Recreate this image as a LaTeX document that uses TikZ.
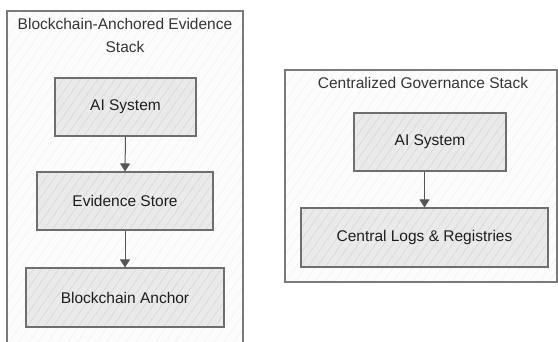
\documentclass[tikz,border=0pt]{standalone}
\usepackage{fontspec}
\setmainfont{Liberation Sans}
\usetikzlibrary{arrows.meta,patterns.meta}

\definecolor{boxfill}{HTML}{EAEAEA}
\definecolor{boxline}{HTML}{6E6E6E}
\definecolor{hatchdark}{HTML}{D4D4D4}
\definecolor{hatchlight}{HTML}{EEEEEE}
\definecolor{framefill}{HTML}{FCFCFC}
\definecolor{frameline}{HTML}{7A7A7A}
\definecolor{arrowcol}{HTML}{555555}
\definecolor{txt}{HTML}{1E1E1E}

\tikzset{
  stackbox/.style={draw=boxline, line width=1.1pt,
    preaction={fill=boxfill},
    preaction={pattern={Lines[angle=55,distance=7pt,line width=0.5pt]}, pattern color=hatchdark},
    rectangle, inner sep=0pt, font=\fontsize{15.5}{18}\selectfont, text=txt},
  frame/.style={draw=frameline, line width=1.2pt,
    preaction={fill=framefill},
    preaction={pattern={Lines[angle=55,distance=8pt,line width=0.4pt]}, pattern color=hatchlight}},
  frametitle/.style={font=\fontsize{15.5}{23}\selectfont, text=txt!90, align=center, inner sep=0pt},
  flow/.style={draw=arrowcol, line width=1pt, -{Triangle[width=10pt,length=8pt]}}
}

\begin{document}
\begin{tikzpicture}[x=1pt,y=1pt]
  \clip (0,0) rectangle (558,341);
  \fill[white] (0,0) rectangle (558,341);

  % left stack frame (runs off the bottom)
  \path[frame] (7,-10) rectangle (243,330);
  \node[frametitle] (ltitle) at (125,305.5) {Blockchain-Anchored Evidence\\Stack};

  \node[stackbox, minimum width=141pt, minimum height=58pt] (ai1) at (125.5,234) {AI System};
  \node[stackbox, minimum width=176pt, minimum height=58pt] (es) at (125,140) {Evidence Store};
  \node[stackbox, minimum width=198pt, minimum height=59pt] (ba) at (125,43.5) {Blockchain Anchor};

  \draw[flow] (ai1.south) -- (es.north);
  \draw[flow] (es.south) -- (ba.north);

  % right stack frame
  \path[frame] (285,59) rectangle (557,271);
  \node[frametitle] (rtitle) at (423,258) {Centralized Governance Stack};

  \node[stackbox, minimum width=152pt, minimum height=58pt] (ai2) at (430,199) {AI System};
  \node[stackbox, minimum width=247pt, minimum height=59pt] (cl) at (424.5,103.5) {Central Logs \& Registries};

  \draw[flow] (ai2.south -| cl.north) -- (cl.north);
\end{tikzpicture}
\end{document}
